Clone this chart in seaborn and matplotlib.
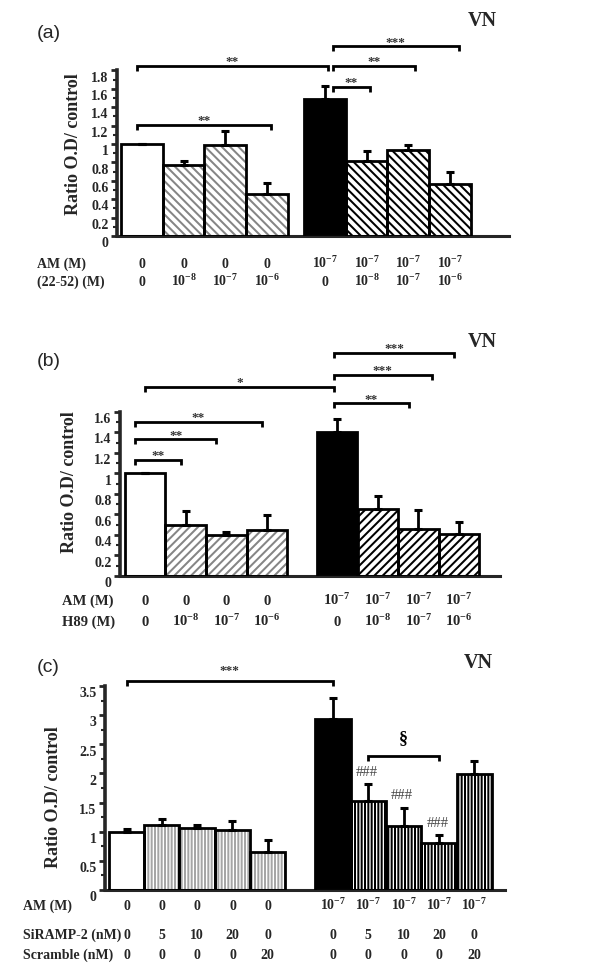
import numpy as np
import pandas as pd
import matplotlib
matplotlib.use("Agg")
import matplotlib.pyplot as plt
import seaborn as sns
from matplotlib.patches import Rectangle
from matplotlib.transforms import blended_transform_factory, ScaledTranslation

# ---------------- data ----------------
a_vals = [1.00, 0.77, 0.985, 0.455, 1.49, 0.82, 0.94, 0.56]
a_errs = [0.00, 0.045, 0.16, 0.125, 0.14, 0.10, 0.05, 0.14]
a_am = ["0", "0", "0", "0", "10-7", "10-7", "10-7", "10-7"]
a_inh = ["0", "10-8", "10-7", "10-6", "0", "10-8", "10-7", "10-6"]
a_brackets = [(0, 4, 1.85, "**"), (0, 3, 1.21, "**"), (4, 5, 1.62, "**"),
              (4, 6, 1.85, "**"), (4, 7, 2.06, "***")]

b_vals = [1.00, 0.50, 0.40, 0.45, 1.40, 0.65, 0.46, 0.41]
b_errs = [0.00, 0.13, 0.03, 0.14, 0.13, 0.13, 0.18, 0.12]
b_am = ["0", "0", "0", "0", "10-7", "10-7", "10-7", "10-7"]
b_h89 = ["0", "10-8", "10-7", "10-6", "0", "10-8", "10-7", "10-6"]
b_brackets = [(0, 1, 1.13, "**"), (0, 2, 1.33, "**"), (0, 3, 1.50, "**"),
              (0, 4, 1.84, "*"), (4, 5, 1.68, "**"), (4, 6, 1.96, "***"),
              (4, 7, 2.17, "***")]

c_vals = [1.00, 1.11, 1.06, 1.03, 0.66, 2.93, 1.53, 1.10, 0.81, 1.99]
c_errs = [0.05, 0.10, 0.05, 0.16, 0.19, 0.36, 0.29, 0.31, 0.13, 0.22]
c_am = ["0", "0", "0", "0", "0", "10-7", "10-7", "10-7", "10-7", "10-7"]
c_siramp = ["0", "5", "10", "20", "0", "0", "5", "10", "20", "0"]
c_scramble = ["0", "0", "0", "0", "20", "0", "0", "0", "0", "20"]
c_brackets = [(0, 5, 3.59, "***"), (6, 8, 2.30, "\u00a7")]
c_hash_bars = [6, 7, 8]
c_hash_label = "###"

# ---------------- style ----------------
W, H = 600, 968
sns.set_style("ticks")
SERIF = ["Liberation Serif", "DejaVu Serif"]
plt.rcParams.update({
    "font.family": SERIF,
    "mathtext.fontset": "custom",
    "mathtext.rm": "Liberation Serif",
    "mathtext.bf": "Liberation Serif:bold",
    "mathtext.it": "Liberation Serif:italic",
    "hatch.linewidth": 1.45,
    "axes.linewidth": 2.0,
})

fig = plt.figure(figsize=(W / 100, H / 100), dpi=100)


def make_ax(left, right, top, bottom):
    return fig.add_axes([left / W, 1 - bottom / H, (right - left) / W, (bottom - top) / H])


def fmt_label(s):
    if s.startswith("10-"):
        return r"10$^{\mathbf{-%s}}$" % s[3:]
    return s


def panel(ax, vals, errs, n_left, gap, styles, ymax, ystep, xlim, ax_h_px):
    n = len(vals)
    pos = [i if i < n_left else i + gap for i in range(n)]
    df = pd.DataFrame({"pos": pos, "val": vals})
    sns.barplot(data=df, x="pos", y="val", native_scale=True, width=1,
                color="white", errorbar=None, ax=ax, zorder=2)
    bars = list(ax.patches)
    for p, (fc, hc, hatch) in zip(bars, styles):
        p.set_facecolor(fc)
        p.set_edgecolor(hc)
        p.set_hatch(hatch)
        p.set_linewidth(0)
        ax.add_patch(Rectangle(p.get_xy(), p.get_width(), p.get_height(),
                               fill=False, ec="black", lw=2.0, zorder=3))
    ax.errorbar(pos, vals, yerr=[np.zeros(n), errs], fmt="none", ecolor="black",
                elinewidth=2.0, capsize=2.8, capthick=2.2, zorder=2.5)
    ax.set_xlim(*xlim)
    ax.set_ylim(0, ymax)
    ticks = np.arange(0, ymax + 1e-9, ystep)
    ax.set_yticks(ticks)
    ax.set_yticklabels([f"{t:g}" for t in ticks], fontsize=10, fontweight="bold",
                       family=SERIF)
    ax.set_yticks(ticks[:-1] + ystep / 2, minor=True)
    ax.set_xticks([])
    ax.set_xlabel("")
    ax.set_ylabel("")
    ax.tick_params(axis="y", which="major", direction="out", length=4, width=2, pad=2)
    ax.tick_params(axis="y", which="minor", direction="out", length=3, width=1.5)
    for lab in ax.get_yticklabels():
        lab.set_transform(lab.get_transform() + ScaledTranslation(0, -4.5 / 72, fig.dpi_scale_trans))
    for s in ("top", "right"):
        ax.spines[s].set_visible(False)
    ax.spines["left"].set_linewidth(2.6)
    ax.spines["bottom"].set_linewidth(2.2)
    ax.patch.set_alpha(0)
    tick = 5 * ymax / ax_h_px
    return pos, tick


def bracket(ax, x1, x2, y, label, tick, dy=0.5, fs=9.5, color="#333333", weight="bold"):
    ax.plot([x1, x1, x2, x2], [y - tick, y, y, y - tick], color="black", lw=2.0,
            clip_on=False, solid_capstyle="butt", solid_joinstyle="miter", zorder=4)
    ax.annotate(label, ((x1 + x2) / 2, y), xytext=(0, dy), textcoords="offset points",
                ha="center", va="baseline", fontsize=fs, fontweight=weight,
                color=color, family=SERIF, annotation_clip=False)


def rows(ax, pos, header, hx, y_base, labels, fs=10):
    fig.text(hx / W, 1 - y_base / H, header, ha="left", va="baseline",
             fontsize=fs, fontweight="bold", family=SERIF)
    tr = blended_transform_factory(ax.transData, fig.transFigure)
    for p, lab in zip(pos, labels):
        ax.text(p, 1 - y_base / H, fmt_label(lab), transform=tr, ha="center",
                va="baseline", fontsize=fs, fontweight="bold", family=SERIF)


def titles(tag, tag_x, tag_y, vn_x, vn_y, yl_x, yl_y):
    fig.text(tag_x / W, 1 - tag_y / H, tag, ha="left", va="center", fontsize=14,
             family=["Liberation Sans", "DejaVu Sans"])
    fig.text(vn_x / W, 1 - vn_y / H, "VN", ha="center", va="center", fontsize=14.5,
             fontweight="bold", family=SERIF)
    fig.text(yl_x / W, 1 - yl_y / H, "Ratio O.D/ control", ha="center", va="center",
             rotation=90, fontsize=13, fontweight="bold", family=SERIF)


GD = "\\\\\\\\"
GU = "////"
GV = "|||||"

# ---------------- panel (a) ----------------
ax_a = make_ax(117, 509, 70.4, 236)
styles_a = [("white", "black", "")] + [("white", "#858585", GD)] * 3 + \
           [("black", "black", "")] + [("white", "black", GD)] * 3
pos_a, tick_a = panel(ax_a, a_vals, a_errs, 4, 0.4, styles_a, 1.8, 0.2, (-0.6, 8.82), 165.6)
a_offsets = [(-0.13, 0.06), (-0.13, 0.10), (0.18, 0.09), (0.18, 0.17), (0.18, 0.22)]
for (i, j, y, lab), (o1, o2) in zip(a_brackets, a_offsets):
    bracket(ax_a, pos_a[i] + o1, pos_a[j] + o2, y, lab, tick_a)
rows(ax_a, pos_a, "AM (M)", 37, 268, a_am)
rows(ax_a, pos_a, "(22-52) (M)", 37, 286, a_inh)
titles("(a)", 37, 33, 482, 21, 74, 144)

# ---------------- panel (b) ----------------
ax_b = make_ax(120, 500, 411.7, 576)
styles_b = [("white", "black", "")] + [("white", "#858585", GU)] * 3 + \
           [("black", "black", "")] + [("white", "black", GU)] * 3
pos_b, tick_b = panel(ax_b, b_vals, b_errs, 4, 0.73, styles_b, 1.6, 0.2, (-0.62, 8.74), 164.3)
b_offsets = [(-0.25, -0.12), (-0.25, -0.25), (-0.25, -0.12), (0.0, -0.08),
             (-0.08, 0.77), (-0.08, 0.33), (-0.08, -0.12)]
for (i, j, y, lab), (o1, o2) in zip(b_brackets, b_offsets):
    bracket(ax_b, pos_b[i] + o1, pos_b[j] + o2, y, lab, tick_b)
rows(ax_b, pos_b, "AM (M)", 62, 605, b_am, fs=10.5)
rows(ax_b, pos_b, "H89 (M)", 62, 626, b_h89, fs=10.5)
titles("(b)", 37, 362, 482, 342, 69, 482)

# ---------------- panel (c) ----------------
ax_c = make_ax(105, 505, 686, 890)
styles_c = [("white", "black", "")] + [("white", "#a5a5a5", GV)] * 4 + \
           [("black", "black", "")] + [("white", "black", GV)] * 4
pos_c, tick_c = panel(ax_c, c_vals, c_errs, 5, 0.85, styles_c, 3.5, 0.5, (-0.61, 10.72), 204)
bracket(ax_c, pos_c[c_brackets[0][0]], pos_c[c_brackets[0][1]], c_brackets[0][2],
        c_brackets[0][3], tick_c, dy=5)
bracket(ax_c, pos_c[c_brackets[1][0]], pos_c[c_brackets[1][1]], c_brackets[1][2],
        c_brackets[1][3], tick_c, dy=9, fs=13, color="black")
for k in c_hash_bars:
    ax_c.annotate(c_hash_label, (pos_c[k], c_vals[k] + c_errs[k]), xytext=(-1, 6),
                  textcoords="offset points", ha="center", va="baseline", fontsize=10.5,
                  color="#444444", family=SERIF, annotation_clip=False)
rows(ax_c, pos_c, "AM (M)", 23, 910, c_am)
rows(ax_c, pos_c, "SiRAMP-2 (nM)", 23, 939, c_siramp)
rows(ax_c, pos_c, "Scramble (nM)", 23, 959, c_scramble)
titles("(c)", 37, 667, 478, 663, 54, 797)

fig.savefig("out.png", dpi=100)
